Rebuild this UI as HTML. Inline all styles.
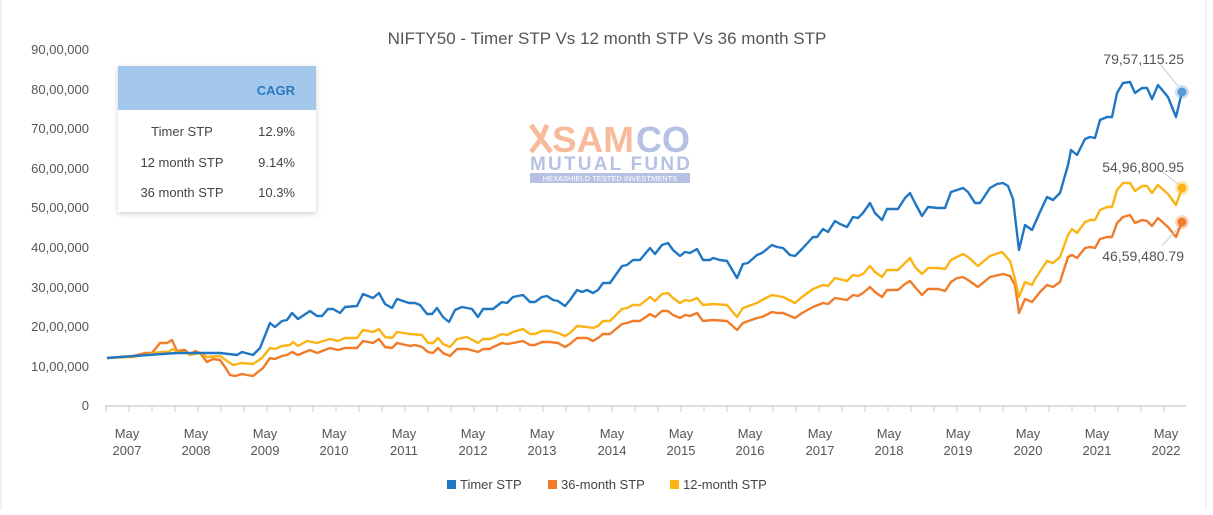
<!DOCTYPE html>
<html><head><meta charset="utf-8"><style>
body{margin:0;background:#fff;width:1213px;height:510px;overflow:hidden;font-family:"Liberation Sans",sans-serif}
</style></head><body>
<svg width="1213" height="510" xmlns="http://www.w3.org/2000/svg" font-family="Liberation Sans, sans-serif">
<defs><filter id="sh" x="-10%" y="-10%" width="120%" height="130%"><feDropShadow dx="0" dy="2" stdDeviation="3" flood-color="#000" flood-opacity="0.18"/></filter></defs>
<rect width="1213" height="510" fill="#fff"/>
<line x1="1" y1="0" x2="1" y2="510" stroke="#e4e4e4"/>
<line x1="1206" y1="0" x2="1206" y2="510" stroke="#e4e4e4"/>
<text x="607" y="44" text-anchor="middle" font-size="17" fill="#555">NIFTY50 - Timer STP Vs 12 month STP Vs 36 month STP</text>
<g font-size="13" fill="#555" text-anchor="end">
<text x="89" y="54">90,00,000</text><text x="89" y="94">80,00,000</text><text x="89" y="133">70,00,000</text><text x="89" y="173">60,00,000</text><text x="89" y="212">50,00,000</text><text x="89" y="252">40,00,000</text><text x="89" y="292">30,00,000</text><text x="89" y="331">20,00,000</text><text x="89" y="371">10,00,000</text><text x="89" y="410">0</text>
</g>
<line x1="105" y1="406" x2="1186" y2="406" stroke="#bbb"/>
<g font-size="13" fill="#555" text-anchor="middle">
<text x="127" y="438">May</text><text x="127" y="455">2007</text>
<text x="196" y="438">May</text><text x="196" y="455">2008</text>
<text x="265" y="438">May</text><text x="265" y="455">2009</text>
<text x="334" y="438">May</text><text x="334" y="455">2010</text>
<text x="404" y="438">May</text><text x="404" y="455">2011</text>
<text x="473" y="438">May</text><text x="473" y="455">2012</text>
<text x="542" y="438">May</text><text x="542" y="455">2013</text>
<text x="612" y="438">May</text><text x="612" y="455">2014</text>
<text x="681" y="438">May</text><text x="681" y="455">2015</text>
<text x="750" y="438">May</text><text x="750" y="455">2016</text>
<text x="820" y="438">May</text><text x="820" y="455">2017</text>
<text x="889" y="438">May</text><text x="889" y="455">2018</text>
<text x="958" y="438">May</text><text x="958" y="455">2019</text>
<text x="1028" y="438">May</text><text x="1028" y="455">2020</text>
<text x="1097" y="438">May</text><text x="1097" y="455">2021</text>
<text x="1166" y="438">May</text><text x="1166" y="455">2022</text>
</g>
<!-- logo -->
<g opacity="0.5">
<path d="M531,125 L541,139 L531,152 M547,125 L541,139 L551,152" stroke="#f07a3a" stroke-width="5" fill="none"/>
<text x="552" y="152" font-size="36" font-weight="bold" fill="#f07a3a" textLength="82" lengthAdjust="spacingAndGlyphs">SAM</text>
<text x="636" y="152" font-size="36" font-weight="bold" fill="#6f84c8" textLength="54" lengthAdjust="spacingAndGlyphs">CO</text>
<text x="530" y="170" font-size="19" font-weight="bold" fill="#6f84c8" textLength="160" lengthAdjust="spacing">MUTUAL FUND</text>
<rect x="530" y="173" width="160" height="10" fill="#6f84c8"/>
<text x="610" y="181" font-size="7.5" fill="#fff" text-anchor="middle">HEXASHIELD TESTED INVESTMENTS</text>
</g>
<g fill="none" stroke-width="2.4" stroke-linejoin="round">
<polyline stroke="#f07c2a" points="107,358 133,356 145,353 152,353 160,343 167,343 172,340 177,351 185,350 190,355 195,351 200,353 207,362 213,359 220,360 225,367 230,375 235,376 242,374 247,375 253,376 263,368 270,358 275,359 282,356 287,355 292,352 298,355 310,350 317,353 330,348 338,350 345,348 357,348 363,341 373,343 379,339 385,347 392,348 397,343 410,346 415,345 422,347 428,352 433,353 438,348 443,353 450,356 457,349 467,349 478,352 483,349 490,349 493,347 502,343 507,344 513,343 523,341 530,345 535,345 542,342 550,342 558,343 565,347 570,344 577,338 587,338 593,341 598,338 603,334 610,334 622,324 627,323 633,321 640,321 650,314 655,317 662,311 668,311 673,315 680,318 685,315 690,316 697,313 703,321 713,320 727,321 737,330 743,323 757,318 762,317 772,312 777,313 783,313 795,318 802,313 813,307 823,303 828,304 835,298 847,300 853,295 858,296 863,293 870,287 875,292 882,297 887,290 898,290 905,284 910,281 915,287 922,295 928,289 938,289 945,291 951,282 957,278 963,277 968,280 978,287 990,277 1003,274 1010,276 1015,285 1019,313 1025,299 1032,302 1040,292 1047,285 1053,287 1060,282 1068,257 1072,255 1077,258 1085,248 1090,247 1095,248 1100,239 1107,237 1112,237 1117,223 1123,217 1130,215 1135,223 1142,220 1147,221 1152,226 1158,218 1168,227 1176,237 1182,222"/>
<polyline stroke="#fbb316" points="107,358 133,357 150,354 160,352 168,352 173,349 177,352 187,353 190,355 200,353 207,357 220,356 227,361 233,365 242,363 253,364 262,358 270,348 275,349 282,346 290,345 293,342 298,346 307,341 317,343 330,339 338,341 345,338 357,338 363,330 373,332 379,329 385,337 392,338 397,332 410,334 422,335 428,343 433,343 438,338 443,344 450,347 457,339 467,337 478,343 483,339 490,339 493,338 502,334 507,335 513,332 523,329 530,334 535,334 542,331 550,331 558,333 565,336 570,333 577,326 587,327 593,328 598,326 603,321 610,321 622,309 627,308 633,305 640,305 650,297 655,301 662,294 668,293 673,298 680,303 685,300 690,301 697,298 703,305 713,304 727,305 737,317 743,308 757,303 762,300 772,295 777,296 783,297 795,303 802,297 813,289 823,285 828,286 835,278 847,281 853,275 858,276 863,274 870,266 875,272 882,277 887,270 898,270 905,263 910,258 915,267 922,274 928,268 938,268 945,269 951,260 963,254 968,257 978,266 990,256 1002,252 1010,261 1015,279 1019,297 1025,282 1032,285 1035,279 1047,261 1053,263 1060,257 1068,235 1072,229 1077,233 1085,222 1090,220 1095,220 1100,210 1107,207 1112,207 1117,190 1123,183 1130,183 1135,191 1142,186 1147,186 1152,193 1158,185 1168,194 1176,205 1182,188"/>
<polyline stroke="#1f77c4" points="107,358 162,354 177,353 220,353 237,355 242,352 253,355 260,348 270,323 275,327 282,321 287,320 292,313 298,319 310,311 317,316 322,316 328,309 333,309 340,313 345,307 357,306 363,294 373,298 379,293 385,304 392,308 397,299 403,301 409,303 415,303 420,305 427,314 432,314 437,308 443,317 449,322 455,310 462,307 472,309 478,317 483,309 493,309 502,302 507,303 513,297 523,295 530,302 535,302 542,297 547,296 553,300 558,301 565,306 570,300 577,290 582,292 587,290 593,293 598,290 603,283 610,283 622,266 627,265 633,260 640,260 650,248 655,254 662,245 668,243 673,250 680,256 685,252 690,253 697,249 703,260 710,260 713,258 720,260 727,261 737,278 743,264 748,263 757,255 762,253 772,245 777,247 783,248 790,255 795,256 802,249 813,237 817,237 823,229 828,232 835,221 840,224 847,227 853,217 858,218 863,213 870,203 875,213 882,220 887,209 898,209 905,198 910,193 915,203 922,216 928,207 938,208 945,208 951,192 963,188 968,192 975,203 980,203 990,188 997,184 1003,183 1008,186 1013,199 1019,250 1025,225 1032,230 1040,212 1047,197 1053,200 1060,193 1068,165 1071,150 1077,155 1085,139 1090,137 1095,138 1100,120 1107,117 1112,117 1117,93 1123,83 1130,82 1135,93 1142,88 1147,88 1152,99 1158,85 1168,97 1176,117 1182,92"/>
</g>
<g stroke="#ccc" fill="none">
<polyline points="1160,64 1178,86"/><polyline points="1160,170 1178,184"/><polyline points="1162,246 1178,228"/>
</g>
<circle cx="1182" cy="92" r="7" fill="#5b9bd5" opacity="0.3"/><circle cx="1182" cy="92" r="4.5" fill="#5b9bd5"/>
<circle cx="1182" cy="188" r="7" fill="#fbb316" opacity="0.3"/><circle cx="1182" cy="188" r="4.5" fill="#fbb316"/>
<circle cx="1182" cy="222" r="7" fill="#f07c2a" opacity="0.3"/><circle cx="1182" cy="222" r="4.5" fill="#f07c2a"/>
<g font-size="14" fill="#555" text-anchor="end">
<text x="1184" y="64">79,57,115.25</text>
<text x="1184" y="172">54,96,800.95</text>
<text x="1184" y="261">46,59,480.79</text>
</g>
<!-- CAGR box -->
<rect x="118" y="66" width="198" height="146" fill="#fff" filter="url(#sh)"/>
<rect x="118" y="66" width="198" height="44" fill="#a4c8eb"/>
<g font-size="13" fill="#444">
<text x="295" y="95" text-anchor="end" fill="#2a7ac0" font-weight="bold">CAGR</text>
<text x="182" y="136" text-anchor="middle">Timer STP</text><text x="295" y="136" text-anchor="end">12.9%</text>
<text x="182" y="167" text-anchor="middle">12 month STP</text><text x="295" y="167" text-anchor="end">9.14%</text>
<text x="182" y="197" text-anchor="middle">36 month STP</text><text x="295" y="197" text-anchor="end">10.3%</text>
</g>
<!-- legend -->
<g font-size="13" fill="#444">
<rect x="447" y="480" width="9" height="9" fill="#1f77c4"/><text x="460" y="489">Timer STP</text>
<rect x="548" y="480" width="9" height="9" fill="#f07c2a"/><text x="561" y="489">36-month STP</text>
<rect x="670" y="480" width="9" height="9" fill="#fbb316"/><text x="683" y="489">12-month STP</text>
</g>
<g stroke="#ccc">
<line x1="106" y1="406" x2="106" y2="412"/><line x1="129" y1="406" x2="129" y2="412"/><line x1="152" y1="406" x2="152" y2="412"/><line x1="175" y1="406" x2="175" y2="412"/><line x1="198" y1="406" x2="198" y2="412"/><line x1="221" y1="406" x2="221" y2="412"/><line x1="244" y1="406" x2="244" y2="412"/><line x1="267" y1="406" x2="267" y2="412"/><line x1="290" y1="406" x2="290" y2="412"/><line x1="313" y1="406" x2="313" y2="412"/><line x1="336" y1="406" x2="336" y2="412"/><line x1="359" y1="406" x2="359" y2="412"/><line x1="382" y1="406" x2="382" y2="412"/><line x1="405" y1="406" x2="405" y2="412"/><line x1="428" y1="406" x2="428" y2="412"/><line x1="451" y1="406" x2="451" y2="412"/><line x1="474" y1="406" x2="474" y2="412"/><line x1="497" y1="406" x2="497" y2="412"/><line x1="520" y1="406" x2="520" y2="412"/><line x1="543" y1="406" x2="543" y2="412"/><line x1="566" y1="406" x2="566" y2="412"/><line x1="589" y1="406" x2="589" y2="412"/><line x1="612" y1="406" x2="612" y2="412"/><line x1="635" y1="406" x2="635" y2="412"/><line x1="658" y1="406" x2="658" y2="412"/><line x1="681" y1="406" x2="681" y2="412"/><line x1="704" y1="406" x2="704" y2="412"/><line x1="727" y1="406" x2="727" y2="412"/><line x1="750" y1="406" x2="750" y2="412"/><line x1="773" y1="406" x2="773" y2="412"/><line x1="796" y1="406" x2="796" y2="412"/><line x1="819" y1="406" x2="819" y2="412"/><line x1="842" y1="406" x2="842" y2="412"/><line x1="865" y1="406" x2="865" y2="412"/><line x1="888" y1="406" x2="888" y2="412"/><line x1="911" y1="406" x2="911" y2="412"/><line x1="934" y1="406" x2="934" y2="412"/><line x1="957" y1="406" x2="957" y2="412"/><line x1="980" y1="406" x2="980" y2="412"/><line x1="1003" y1="406" x2="1003" y2="412"/><line x1="1026" y1="406" x2="1026" y2="412"/><line x1="1049" y1="406" x2="1049" y2="412"/><line x1="1072" y1="406" x2="1072" y2="412"/><line x1="1095" y1="406" x2="1095" y2="412"/><line x1="1118" y1="406" x2="1118" y2="412"/><line x1="1141" y1="406" x2="1141" y2="412"/><line x1="1164" y1="406" x2="1164" y2="412"/>
</g>
</svg>
</body></html>
